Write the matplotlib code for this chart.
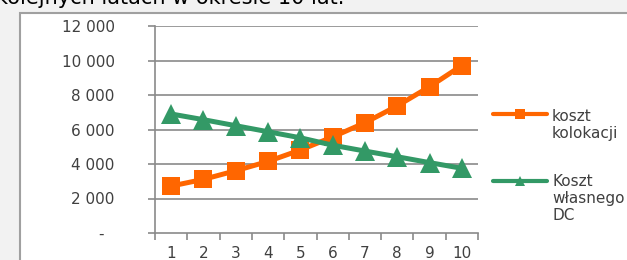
import matplotlib
matplotlib.use("Agg")
import matplotlib.pyplot as plt
from matplotlib.patches import Rectangle
from matplotlib.lines import Line2D
from matplotlib.ticker import FuncFormatter, FixedLocator

years = [1, 2, 3, 4, 5, 6, 7, 8, 9, 10]
koszt_kolokacji = [2720, 3110, 3610, 4150, 4810, 5570, 6390, 7370, 8480, 9710]
koszt_wlasnego_dc = [6900, 6570, 6220, 5870, 5520, 5090, 4750, 4420, 4080, 3750]
y_ticks = [0, 2000, 4000, 6000, 8000, 10000, 12000]
label_kolokacja = "koszt\nkolokacji"
label_dc = "Koszt\nwłasnego\nDC"
title_text = "kolejnych latach w okresie 10 lat."

W, H = 627, 260
ORANGE = "#ff6600"
GREEN = "#339966"
GRID = "#8a8a8a"
TXT = "#404040"

fig = plt.figure(figsize=(W / 100, H / 100), dpi=100)
fig.patch.set_facecolor("#f2f2f2")

def fx(px):
    return px / W

def fy(py):
    return 1 - py / H

# chart frame
fig.add_artist(Rectangle((fx(19.5), -0.2), 1.5, fy(12.5) + 0.2, transform=fig.transFigure,
                         facecolor="white", edgecolor="#a0a0a0", linewidth=1.5, zorder=0))

# cut-off heading text
fig.text(fx(-4), fy(4), title_text, fontsize=15, color="black", va="baseline", ha="left",
         family="DejaVu Sans")

ax = fig.add_axes([fx(155), fy(233), fx(478) - fx(155), fy(26) - fy(233)])
ax.set_facecolor("none")

ax.plot(years, koszt_kolokacji, color=ORANGE, linewidth=3.6, marker="s", markersize=13.5,
        markeredgewidth=0, zorder=3, solid_capstyle="round")
ax.plot(years, koszt_wlasnego_dc, color=GREEN, linewidth=3.6, marker="^", markersize=14,
        markeredgewidth=0, zorder=4, solid_capstyle="round")

ax.set_xlim(0.5, 10.5)
ax.set_ylim(0, 12000)

ax.set_yticks(y_ticks)
ax.yaxis.set_major_formatter(FuncFormatter(
    lambda v, p: "-  " if v == 0 else f"{int(v):,}".replace(",", " ")))
for v in y_ticks[1:]:
    ax.axhline(v, color=GRID, linewidth=1.2, zorder=1)

ax.xaxis.set_major_locator(FixedLocator([x + 0.5 for x in [0] + years]))
ax.xaxis.set_major_formatter(FuncFormatter(lambda v, p: ""))
ax.xaxis.set_minor_locator(FixedLocator(years))
ax.xaxis.set_minor_formatter(FuncFormatter(lambda v, p: str(int(round(v)))))

ax.tick_params(axis="x", which="major", length=5, width=1.2, color=GRID, direction="out")
ax.tick_params(axis="x", which="minor", length=0, pad=9, labelsize=11, labelcolor=TXT)
ax.tick_params(axis="y", which="major", length=5, width=1.2, color=GRID, direction="out",
               pad=24, labelsize=11, labelcolor=TXT)

for s in ["top", "right"]:
    ax.spines[s].set_visible(False)
for s in ["left", "bottom"]:
    ax.spines[s].set_color(GRID)
    ax.spines[s].set_linewidth(1.2)

# legend (drawn manually to match layout)
fig.add_artist(Line2D([fx(493), fx(547)], [fy(114), fy(114)], transform=fig.transFigure,
                      color=ORANGE, linewidth=3, solid_capstyle="round", zorder=5))
fig.add_artist(Line2D([fx(520)], [fy(114)], transform=fig.transFigure,
                      color=ORANGE, marker="s", markersize=6.5, markeredgewidth=0, zorder=6))
fig.add_artist(Line2D([fx(493), fx(547)], [fy(181), fy(181)], transform=fig.transFigure,
                      color=GREEN, linewidth=3, solid_capstyle="round", zorder=5))
fig.add_artist(Line2D([fx(520)], [fy(181)], transform=fig.transFigure,
                      color=GREEN, marker="^", markersize=6.5, markeredgewidth=0, zorder=6))
fig.text(fx(552), fy(109), label_kolokacja, fontsize=11, color=TXT, va="top", ha="left",
         linespacing=1.15)
fig.text(fx(552), fy(174.5), label_dc, fontsize=11, color=TXT, va="top", ha="left",
         linespacing=1.15)

fig.savefig("out.png", dpi=100, facecolor=fig.get_facecolor())
